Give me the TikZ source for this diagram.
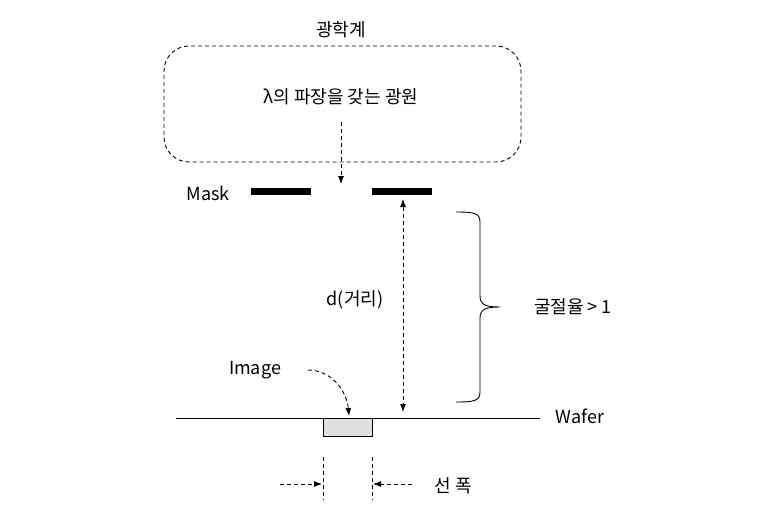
\documentclass[tikz,border=0pt]{standalone}
\usepackage{fontspec}
\setmainfont{Noto Sans CJK KR}
\usetikzlibrary{arrows.meta}

\begin{document}
\begin{tikzpicture}[x=1pt,y=-1pt,font=\fontsize{18}{21}\selectfont]
		\tikzstyle{dash line} = [dash pattern=on 4pt off 3pt, line width=0.9pt]
		\tikzstyle{dash arrow} = [dash line, -{Latex[length=8pt,width=6pt]}]
		\tikzstyle{mask bar} = [fill=black, minimum width=60pt, minimum height=7pt, inner sep=0pt]

		\useasboundingbox (0,0) rectangle (780,520);

		% optical system
		\node (title) at (341,30) {광학계};
		\node[draw, dash line, rounded corners=25pt, minimum width=357pt, minimum height=116pt] (system) at (342.5,104) {};
		\node (source) at (341,97) {λ의 파장을 갖는 광원};
		\coordinate (beam start) at (341,122);
		\coordinate (beam end) at (341,184);
		\draw[dash arrow] (beam start) -- (beam end);

		% mask
		\node (mask label) at (208,193) {Mask};
		\node[mask bar] (mask left) at (281,191.5) {};
		\node[mask bar] (mask right) at (402,191.5) {};

		% distance
		\coordinate (gap top) at (403,199);
		\coordinate (gap bottom) at (403,412);
		\draw[dash line, {Latex[length=8pt,width=6pt]}-{Latex[length=8pt,width=6pt]}] (gap top) -- (gap bottom);
		\node (distance) at (355,300) {d(거리)};

		\draw[line width=0.9pt] (456,212) .. controls (474,212) and (480,213) .. (480,222) -- (480,296)
			.. controls (480,305) and (486,307) .. (500,307) .. controls (486,307) and (480,309) .. (480,318)
			-- (480,392) .. controls (480,401) and (474,402) .. (456,402);
		\node (index) at (573,307) {굴절율 > 1};

		% wafer
		\coordinate (wafer left) at (176,418);
		\coordinate (wafer right) at (540,418);
		\draw[line width=0.9pt] (wafer left) -- (wafer right);
		\node (wafer label) at (580,416) {Wafer};
		\node[draw, fill=gray!25, line width=0.9pt, minimum width=49pt, minimum height=18pt, inner sep=0pt] (image) at (347.5,427) {};
		\node (image label) at (255,370) {Image};
		\coordinate (image tail) at (308,370);
		\coordinate (image tip) at (349,416);
		\draw[dash arrow] (image tail) to[out=0,in=95] (image tip);

		% line width
		\coordinate (width left top) at (323,457);
		\coordinate (width left bottom) at (323,500);
		\coordinate (width right top) at (372,457);
		\coordinate (width right bottom) at (372,500);
		\draw[dash line] (width left top) -- (width left bottom);
		\draw[dash line] (width right top) -- (width right bottom);
		\coordinate (left tail) at (280,484);
		\coordinate (left tip) at (322,484);
		\coordinate (right tail) at (412,484);
		\coordinate (right tip) at (373,484);
		\draw[dash arrow] (left tail) -- (left tip);
		\draw[dash arrow] (right tail) -- (right tip);
		\node (line width) at (453,486) {선 폭};

	\end{tikzpicture}
\end{document}
